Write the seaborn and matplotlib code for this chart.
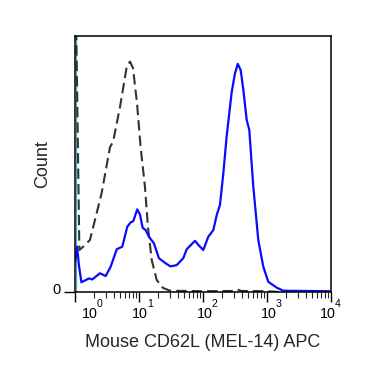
import numpy as np
import pandas as pd
import matplotlib
matplotlib.use("Agg")
import matplotlib.pyplot as plt
import matplotlib.transforms as mtransforms
import seaborn as sns

# ---- data (fluorescence intensity, relative count) ----
iso_x = [1.0, 1.05, 1.17, 1.33, 1.71, 2.05, 2.61, 3.52, 3.93, 5.05, 6.43, 7.23,
         8.05, 9.31, 10.6, 12.4, 13.8, 15.8, 18.9, 23.7, 30.5, 100, 282, 339,
         398, 1000, 1585]
iso_y = [130, 100, 16.4, 17.6, 20.3, 28.1, 38.7, 56.6, 58.6, 72.3, 88.0, 90.0,
         87.5, 73.8, 56.6, 41.0, 25.4, 12.5, 4.7, 1.6, 0.5, 0.3, 0.4, 1.0,
         0.4, 0.3, 0.0]

stain_x = [1.0, 1.08, 1.15, 1.26, 1.65, 1.86, 2.45, 3.02, 3.61, 4.49, 5.48, 6.56,
           7.41, 8.15, 9.40, 10.4, 11.4, 12.7, 14.3, 17.1, 20.5, 26.1, 31.0, 38.8,
           49.2, 55.6, 75.0, 84.5, 101, 121, 145, 164, 184, 208, 234, 281, 316,
           349, 388, 427, 482, 529, 611, 731, 875, 1047, 1418, 1800, 10000]
stain_y = [11.7, 17.7, 10.5, 3.8, 5.3, 4.9, 7.3, 6.25, 9.9, 16.7, 17.7, 25.5,
           27.2, 27.7, 32.3, 30.1, 25.1, 24.2, 21.6, 19.0, 13.2, 11.2, 10.0, 10.5,
           13.2, 16.7, 20.0, 18.4, 16.4, 21.6, 24.2, 30.1, 34.0, 46.4, 60.7, 78.2, 85.4,
           89.1, 86.7, 78.9, 67.2, 63.3, 41.1, 20.3, 9.9, 4.0, 1.7, 0.5, 0.3]

major_ticks = [1, 10, 100, 1000, 10000]
tick_base = "10"
tick_exponents = ["0", "1", "2", "3", "4"]
label_left_px = [7.3, -6.7, -5.7, -6.3, -11]

x_label = "Mouse CD62L (MEL-14) APC"
y_label = "Count"

# ---- style ----
sns.set_style("white")
plt.rcParams['font.family'] = ['Liberation Sans', 'DejaVu Sans']

DPI = 100
fig = plt.figure(figsize=(3.67, 3.79), dpi=DPI)
ax = fig.add_axes([75/367, 1-292/379, 256/367, 256/379])

iso_df = pd.DataFrame({"x": iso_x, "y": iso_y})
stain_df = pd.DataFrame({"x": stain_x, "y": stain_y})

sns.lineplot(data=iso_df, x="x", y="y", sort=False, estimator=None, ax=ax,
             color="#333333", lw=1.5, dashes=False)
ax.lines[-1].set_dashes((5, 2.4))
sns.lineplot(data=stain_df, x="x", y="y", sort=False, estimator=None, ax=ax,
             color="#0a0aff", lw=1.6)

ax.set_xscale("log")
ax.set_xlim(1, 10000)
ax.set_ylim(0, 100)

ax.axvline(1.03, color="#3cb4b4", lw=0.9, zorder=1)

ax.set_xticks(major_ticks)
ax.set_xticklabels([])
minor = [m * d for d in [1, 10, 100, 1000] for m in range(2, 10)]
ax.set_xticks(minor, minor=True)
ax.set_xticklabels([], minor=True)
ax.tick_params(axis="x", which="major", length=7, width=1, direction="out",
               bottom=True, colors="black")
ax.tick_params(axis="x", which="minor", length=4, width=0.8, direction="out",
               bottom=True)

blend = mtransforms.blended_transform_factory(ax.transData, ax.transAxes)
for xt, ex, dx in zip(major_ticks, tick_exponents, label_left_px):
    t1 = blend + mtransforms.ScaledTranslation(dx / DPI, -26.3 / DPI, fig.dpi_scale_trans)
    ax.text(xt, 0, tick_base, transform=t1, ha="left", va="baseline",
            fontsize=10.3, color="black", clip_on=False)
    t2 = blend + mtransforms.ScaledTranslation((dx + 14.6) / DPI, -15.3 / DPI, fig.dpi_scale_trans)
    ax.text(xt, 0, ex, transform=t2, ha="left", va="baseline",
            fontsize=7.6, color="black", clip_on=False)

ax.set_yticks([0])
ax.set_yticklabels(["0"])
ax.tick_params(axis="y", which="major", length=8, width=1, direction="out",
               left=True, labelsize=10.5, pad=2, colors="black")
for lab in ax.get_yticklabels():
    lab.set_transform(lab.get_transform() +
                      mtransforms.ScaledTranslation(0, 4 / DPI, fig.dpi_scale_trans))

for sp in ax.spines.values():
    sp.set_color("black")
    sp.set_linewidth(1.1)
    sp.set_visible(True)

ax.set_xlabel(x_label, fontsize=13, labelpad=20)
ax.set_ylabel(y_label, fontsize=13, labelpad=1)

fig.savefig("out.png", dpi=DPI, facecolor="white")
